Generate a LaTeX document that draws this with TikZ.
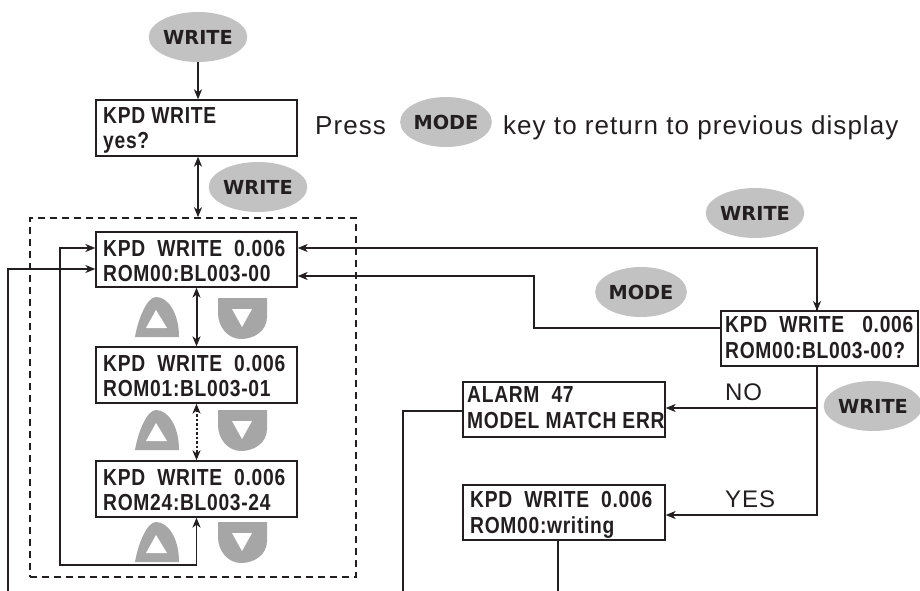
\documentclass[tikz,border=0pt]{standalone}
\usepackage{fontspec}
\setmainfont{Liberation Sans}
\newfontfamily\keyfont{DejaVu Sans}
\newfontfamily\dispfont[FakeStretch=0.83,LetterSpace=3]{Liberation Sans}
\newfontfamily\txtfont[LetterSpace=4]{Liberation Sans}
\usetikzlibrary{arrows.meta,shapes.geometric}
\definecolor{ink}{RGB}{35,31,32}
\definecolor{keyg}{RGB}{194,194,194}
\definecolor{arrg}{RGB}{166,166,166}
\tikzset{
  disp/.style={draw=ink, line width=1.3pt, minimum height=55pt, inner sep=0pt},
  dtext/.style={anchor=north west, inner sep=0pt, align=left, text=ink,
    font=\dispfont\fontsize{23.2}{25}\selectfont\bfseries},
  key/.style={ellipse, fill=keyg, minimum width=84pt, minimum height=50pt, inner sep=0pt,
    text=ink, font=\keyfont\fontsize{19.3}{20}\selectfont\bfseries},
  wire/.style={draw=ink, line width=1.3pt},
  tip/.tip={Stealth[length=10pt,width=8pt,inset=3pt]},
  arr/.style={wire, -tip},
  darr/.style={wire, tip-tip},
  thick arr/.style={draw=ink, line width=2.2pt, -tip},
  thick darr/.style={draw=ink, line width=2.2pt, tip-tip},
  lbl/.style={text=ink, inner sep=0pt, anchor=base west},
  upkey/.pic={
    \fill[arrg] (-21,20) .. controls (-18,2) and (-9,-20) .. (0,-20)
      .. controls (12,-20) and (23,-4) .. (23,20) -- cycle;
    \fill[white] (-10,11) -- (11,11) -- (0,-7) -- cycle;
  },
  downkey/.pic={
    \fill[arrg] (-24,-21) -- (25,-21) -- (25,-2) .. controls (25,12) and (12,20) .. (-1,20)
      .. controls (-14,20) and (-24,8) .. (-24,-6) -- cycle;
    \fill[white] (-10,-10) -- (10,-10) -- (0,8) -- cycle;
  },
}
\begin{document}
\begin{tikzpicture}[x=1pt,y=-1pt]
\useasboundingbox (0,0) rectangle (920,591);

% keys (ellipses)
\node[key] (k1) at (198,37) {WRITE};
\node[key] (k2) at (258,187) {WRITE};
\node[key] (kmode) at (446,122) {MODE};
\node[key] (k3) at (755,213) {WRITE};
\node[key] (k4) at (641,292) {MODE};
\node[key] (k5) at (873,406) {WRITE};

% displays
\node[disp, minimum width=201pt, minimum height=56pt] (kpd) at (196.5,128) {};
\node[dtext] (kpdt) at (103,107) {KPD WRITE\\yes?};
\node[disp, minimum width=201pt] (r0) at (196.5,259.5) {};
\node[dtext] (r0t) at (103,240.5) {KPD\ \ WRITE\ \ 0.006\\ROM00:BL003-00};
\node[disp, minimum width=201pt, minimum height=56pt] (r1) at (196.5,375) {};
\node[dtext] (r1t) at (103,355.5) {KPD\ \ WRITE\ \ 0.006\\ROM01:BL003-01};
\node[disp, minimum width=201pt, minimum height=56pt] (r2) at (196.5,489) {};
\node[dtext] (r2t) at (103,469.5) {KPD\ \ WRITE\ \ 0.006\\ROM24:BL003-24};
\node[disp, minimum width=197pt] (dec) at (819.5,338.5) {};
\node[dtext, font=\dispfont\fontsize{23.2}{26}\selectfont\bfseries] (dect) at (725,316.5) {KPD\ \ WRITE\ \ \ 0.006\\ROM00:BL003-00?};
\node[disp, minimum width=202pt] (alarm) at (564,409.5) {};
\node[dtext, font=\dispfont\fontsize{23.2}{26}\selectfont\bfseries] (alarmt) at (467,386.5) {ALARM\ \ 47\\MODEL MATCH ERR};
\node[disp, minimum width=202pt] (wr) at (564,512.5) {};
\node[dtext, font=\dispfont\fontsize{23.2}{26}\selectfont\bfseries] (wrt) at (470,491.5) {KPD\ \ WRITE\ \ 0.006\\ROM00:writing};

% dashed group
\node[draw=ink, dashed, dash pattern=on 7pt off 5pt, line width=1.6pt,
      minimum width=326pt, minimum height=359pt, inner sep=0pt] (grp) at (193,397.5) {};

% press text
\node[lbl, font=\txtfont\fontsize{26}{26}\selectfont] (press) at (315,135) {Press};
\node[lbl, font=\txtfont\fontsize{26}{26}\selectfont] (keytxt) at (503,135) {key to return to previous display};

% arrow keys
\pic at (156,317) {upkey};
\pic at (242,319) {downkey};
\pic at (156,430) {upkey};
\pic at (242,431) {downkey};
\pic at (156,542) {upkey};
\pic at (242,543) {downkey};

% connectors
\coordinate (topx) at (198,0);
\draw[thick arr] (k1.south) -- (topx |- kpd.north);
\draw[thick darr] (topx |- kpd.south) -- (topx |- grp.north);
\draw[thick darr, line width=2pt] (r0.south) -- (r1.north);
\draw[thick darr, line width=2pt, dash pattern=on 2.5pt off 2pt] (r1.south) -- (r2.north);
\coordinate (loopL) at (60,565);
\draw[darr] ([yshift=11.5pt]r0.west) -| (loopL) -| (r2.south);
\coordinate (leftEnd) at (8,591);
\draw[arr] (leftEnd) |- ([yshift=-9.5pt]r0.west);
\coordinate (decTop) at (817,311);
\draw[wire, tip-] ([yshift=11.5pt]r0.east) -| (decTop);
\draw[thick arr] ([yshift=14pt]decTop) -- (decTop);
\coordinate (modeBend) at (534,276);
\draw[arr] ([yshift=10.5pt]dec.west) -| (modeBend) -- (r0.east |- modeBend);
\coordinate (decBot) at (817,515);
\coordinate (noJoin) at (817,408);
\draw[arr] (decBot |- dec.south) -- (decBot) -- (wr.east |- decBot);
\draw[arr] (noJoin) -- (alarm.east |- noJoin);
\coordinate (alarmEnd) at (403,591);
\draw[wire] ([yshift=-1.5pt]alarm.west) -| (alarmEnd);
\coordinate (wrEnd) at (558,591);
\draw[wire] (wrEnd |- wr.south) -- (wrEnd);

% labels
\node[lbl, font=\txtfont\fontsize{24}{24}\selectfont] (no) at (725,400) {NO};
\node[lbl, font=\txtfont\fontsize{24}{24}\selectfont] (yes) at (725,507) {YES};
\end{tikzpicture}
\end{document}
